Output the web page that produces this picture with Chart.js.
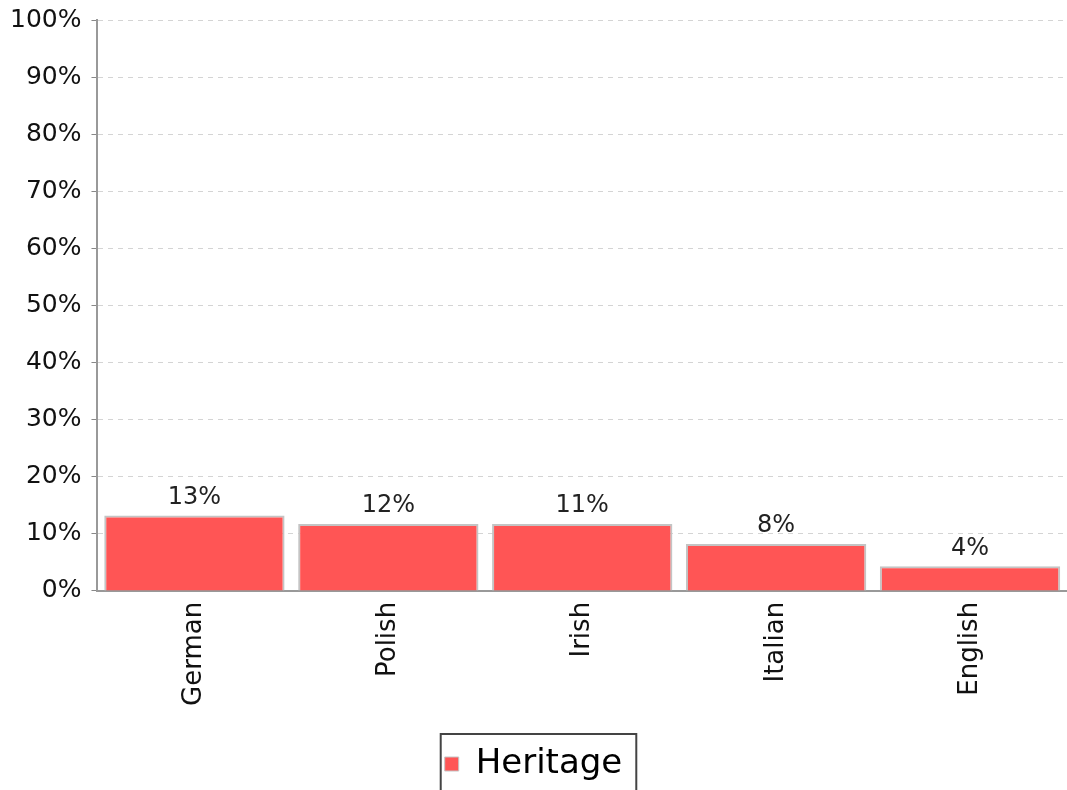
<!DOCTYPE html>
<html>
<head>
<meta charset="utf-8">
<script src="https://cdn.jsdelivr.net/npm/chart.js@4.4.0/dist/chart.umd.min.js"></script>
<style>
    html, body { margin: 0; padding: 0; background: #fff; overflow: hidden; }
    #wrap { width: 1067px; height: 790px; overflow: hidden; }
    #heritageChart { display: block; margin-top: -5px; }
</style>
</head>
<body>
<div id="wrap">
    <canvas id="heritageChart" width="1067" height="796"></canvas>
</div>
<script>
// data
const categories = ["German", "Polish", "Irish", "Italian", "English"];
const heritageValues = [13.2, 11.7, 11.7, 8.2, 4.3];
const valueLabels = ["13%", "12%", "11%", "8%", "4%"];
const yTicks = [0, 10, 20, 30, 40, 50, 60, 70, 80, 90, 100];

const fontFamily = "'DejaVu Sans', sans-serif";

// print the percentage above each bar
const barLabels = {
    id: 'barLabels',
    afterDatasetsDraw(chart) {
        const ctx = chart.ctx;
        const meta = chart.getDatasetMeta(0);
        ctx.save();
        ctx.font = "24px " + fontFamily;
        ctx.fillStyle = "#222";
        ctx.textAlign = "center";
        ctx.textBaseline = "bottom";
        meta.data.forEach(function (bar, i) {
            ctx.fillText(valueLabels[i], bar.x, bar.y - 6);
        });
        ctx.restore();
    }
};

// frame round the legend like the original
const legendFrame = {
    id: 'legendFrame',
    afterDraw(chart) {
        const legend = chart.legend;
        if (!legend || !legend.legendHitBoxes.length) return;
        const box = legend.legendHitBoxes[0];
        const ctx = chart.ctx;
        const midY = box.top + box.height / 2;
        ctx.save();
        ctx.strokeStyle = "#444";
        ctx.lineWidth = 2;
        ctx.strokeRect(box.left - 4, midY - 30, box.width + 18, 80);
        ctx.restore();
    }
};

const ctx = document.getElementById('heritageChart').getContext('2d');
const heritageChart = new Chart(ctx, {
    type: 'bar',
    data: {
        labels: categories,
        datasets: [{
            label: "Heritage",
            data: heritageValues,
            backgroundColor: "#FF5555",
            borderColor: "#c4c4c4",
            borderWidth: 2,
            barPercentage: 0.93,
            categoryPercentage: 1.0
        }]
    },
    options: {
        responsive: false,
        animation: false,
        layout: {
            padding: { top: 4, left: 0, right: 0, bottom: 0 }
        },
        plugins: {
            title: { display: false },
            tooltip: { enabled: false },
            legend: {
                display: true,
                position: 'bottom',
                labels: {
                    font: { family: fontFamily, size: 34 },
                    color: "#111",
                    boxWidth: 14,
                    boxHeight: 14,
                    padding: 30,
                    generateLabels: function (chart) {
                        return [{
                            text: "Heritage",
                            fillStyle: "#FF5555",
                            strokeStyle: "#c4c4c4",
                            lineWidth: 1,
                            datasetIndex: 0
                        }];
                    }
                }
            }
        },
        scales: {
            x: {
                // a bit of room between the labels and the legend
                afterFit: function (scale) { scale.height += 8; },
                grid: { display: false },
                border: { display: true, color: "#999", width: 2 },
                ticks: {
                    font: { family: fontFamily, size: 26 },
                    color: "#111",
                    maxRotation: 90,
                    minRotation: 90,
                    padding: 3
                }
            },
            y: {
                min: 0,
                max: 100,
                afterBuildTicks: function (axis) {
                    axis.ticks = yTicks.map(function (v) { return { value: v }; });
                },
                grid: {
                    color: "#d4d4d4",
                    lineWidth: 1,
                    tickLength: 6,
                    tickColor: "#888",
                    tickWidth: 1
                },
                border: { display: true, color: "#999", width: 2, dash: [5, 5] },
                ticks: {
                    font: { family: fontFamily, size: 25 },
                    color: "#111",
                    padding: 10,
                    callback: function (v) { return v + "%"; }
                }
            }
        }
    },
    plugins: [barLabels, legendFrame]
});
</script>
</body>
</html>
